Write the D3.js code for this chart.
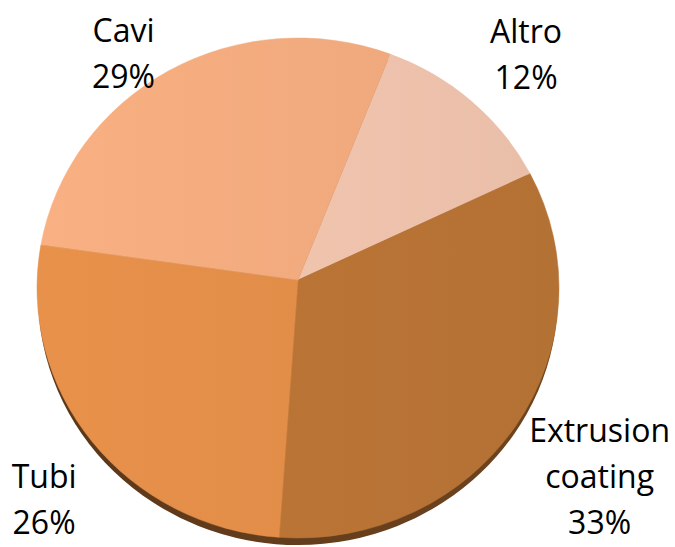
<!DOCTYPE html>
<html>
<head>
<meta charset="utf-8">
<script src="https://cdn.jsdelivr.net/npm/d3@7/dist/d3.min.js"></script>
<style>
  html, body { margin: 0; padding: 0; background: #ffffff; }
  svg { display: block; }
</style>
</head>
<body>
<svg id="chart" width="675" height="547"></svg>
<script>
// ---- data ----
const categories = ["Altro", "Extrusion coating", "Tubi", "Cavi"];
const labelLines = [["Altro"], ["Extrusion", "coating"], ["Tubi"], ["Cavi"]];
const values = [12, 33, 26, 29];
const colors = ["#EEC2AC", "#B87335", "#E08C48", "#F0AA7D"];

// ---- layout ----
const W = 675, H = 547;
const cx = 298, cy = 288, rx = 261, ry = 250;   // ellipse of the pie face
const ax = 298, ay = 280;                        // apex of the slices
const startDeg = 22.2;
const depth = 7;
const fontSize = 32, lineH = 46, gap = 30;
const labelNudge = [[10, 7], [4, -10], [-2, 7], [-21, 50]];

const svg = d3.select("#chart");
const defs = svg.append("defs");

const rad = d => d * Math.PI / 180;
const pie = d3.pie().sort(null).value(d => d)
  .startAngle(rad(startDeg)).endAngle(rad(startDeg) + 2 * Math.PI);
const arcs = pie(values);

// point on the ellipse along a ray from the apex
function edgePoint(theta) {
  const dx = Math.sin(theta), dy = -Math.cos(theta);
  const ox = ax - cx, oy = ay - cy;
  const a = dx * dx / (rx * rx) + dy * dy / (ry * ry);
  const b = 2 * (ox * dx / (rx * rx) + oy * dy / (ry * ry));
  const c = ox * ox / (rx * rx) + oy * oy / (ry * ry) - 1;
  const t = (-b + Math.sqrt(b * b - 4 * a * c)) / (2 * a);
  return [ax + t * dx, ay + t * dy, dx, dy];
}

// gradients
colors.forEach((c, i) => {
  const g = defs.append("linearGradient").attr("id", "g" + i)
    .attr("gradientUnits", "userSpaceOnUse")
    .attr("x1", cx - rx).attr("y1", cy).attr("x2", cx + rx).attr("y2", cy);
  g.append("stop").attr("offset", "0%").attr("stop-color", d3.color(c).brighter(0.1).formatHex());
  g.append("stop").attr("offset", "100%").attr("stop-color", d3.color(c).darker(0.06).formatHex());
});
const sg = defs.append("linearGradient").attr("id", "shadow")
  .attr("gradientUnits", "userSpaceOnUse")
  .attr("x1", cx - rx).attr("y1", cy).attr("x2", cx + rx).attr("y2", cy);
sg.append("stop").attr("offset", "0%").attr("stop-color", "#5a3719");
sg.append("stop").attr("offset", "100%").attr("stop-color", "#6e441f");

// side / shadow
svg.append("ellipse")
  .attr("cx", cx).attr("cy", cy + depth).attr("rx", rx - 1).attr("ry", ry)
  .attr("fill", "url(#shadow)");

// slices
svg.append("g").selectAll("path").data(arcs).join("path")
  .attr("d", d => {
    const p0 = edgePoint(d.startAngle), p1 = edgePoint(d.endAngle);
    const large = (d.endAngle - d.startAngle) > Math.PI ? 1 : 0;
    return `M${ax},${ay}L${p0[0]},${p0[1]}A${rx},${ry} 0 ${large} 1 ${p1[0]},${p1[1]}Z`;
  })
  .attr("fill", (d, i) => `url(#g${i})`)
  .attr("stroke", (d, i) => `url(#g${i})`)
  .attr("stroke-width", 0.5);

// labels
const lg = svg.append("g").attr("font-family", "'Open Sans', 'Liberation Sans', sans-serif")
  .attr("font-size", fontSize).attr("fill", "#000");

arcs.forEach((d, i) => {
  const lines = labelLines[i].concat([values[i] + "%"]);
  const g = lg.append("g");
  const t = g.append("text").attr("text-anchor", "middle");
  lines.forEach((s, k) => {
    t.append("tspan").attr("x", 0).attr("y", k * lineH).text(s);
  });
  const bb = t.node().getBBox();
  const mid = (d.startAngle + d.endAngle) / 2;
  const p = edgePoint(mid);
  const w = bb.width, h = bb.height;
  const tx = p[0] + p[2] * gap + p[2] * w / 2 + labelNudge[i][0];
  const ty = p[1] + p[3] * gap + p[3] * h / 2 + labelNudge[i][1];
  const bcx = bb.x + w / 2, bcy = bb.y + h / 2;
  g.attr("transform", `translate(${tx - bcx},${ty - bcy})`);
});
</script>
</body>
</html>
